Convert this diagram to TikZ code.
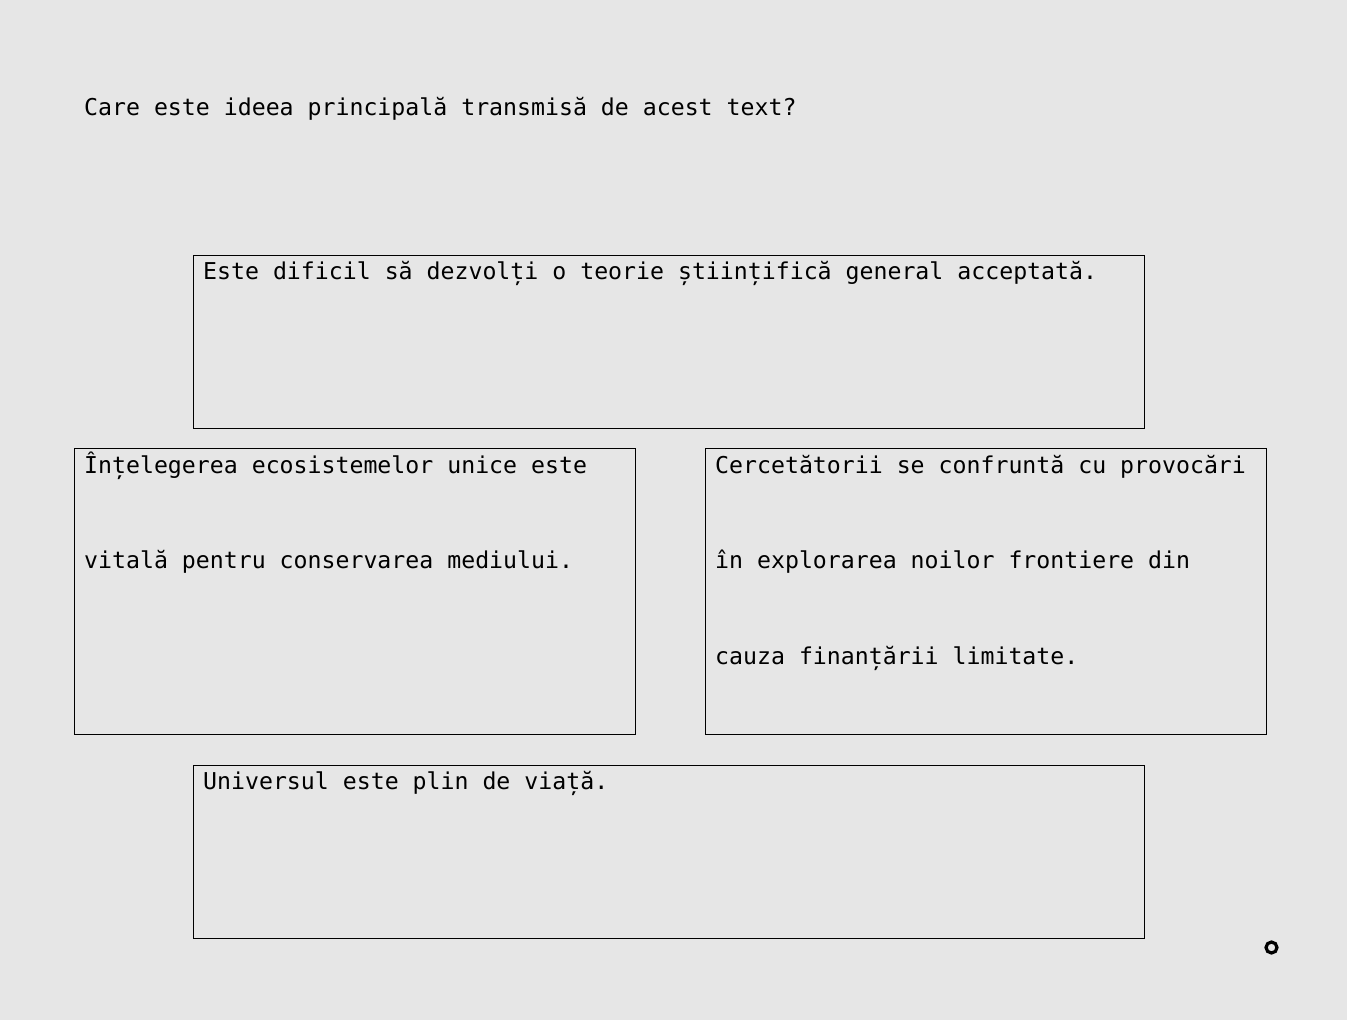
\documentclass[tikz,border=0pt]{standalone}
\usepackage{fontspec}
\setmonofont{DejaVu Sans Mono}
\begin{document}
\begin{tikzpicture}[x=1pt,y=-1pt,
  txt/.style={anchor=base west,inner sep=0pt,font=\ttfamily\fontsize{23.2}{23.2}\selectfont,text=black},
  answer/.style={draw=black,line width=1pt}]
\useasboundingbox[fill={rgb,255:red,230;green,230;blue,230}] (0,0) rectangle (1347,1020);
\node[txt] (q) at (84,115) {Care este ideea principală transmisă de acest text?};
\draw[answer] (193.5,255.5) rectangle (1144.5,428.5);
\node[txt] (a1) at (203,279) {Este dificil să dezvolți o teorie științifică general acceptată.};
\draw[answer] (74.5,448.5) rectangle (635.5,734.5);
\node[txt] (b1) at (84,473) {Înțelegerea ecosistemelor unice este};
\node[txt] (b2) at (84,568) {vitală pentru conservarea mediului.};
\draw[answer] (705.5,448.5) rectangle (1266.5,734.5);
\node[txt] (c1) at (715,473) {Cercetătorii se confruntă cu provocări};
\node[txt] (c2) at (715,568) {în explorarea noilor frontiere din};
\node[txt] (c3) at (715,664) {cauza finanțării limitate.};
\draw[answer] (193.5,765.5) rectangle (1144.5,938.5);
\node[txt] (d1) at (203,789) {Universul este plin de viață.};
\draw[line width=3.2pt,black] (1271.5,947.5) circle (5.5);
\end{tikzpicture}
\end{document}
